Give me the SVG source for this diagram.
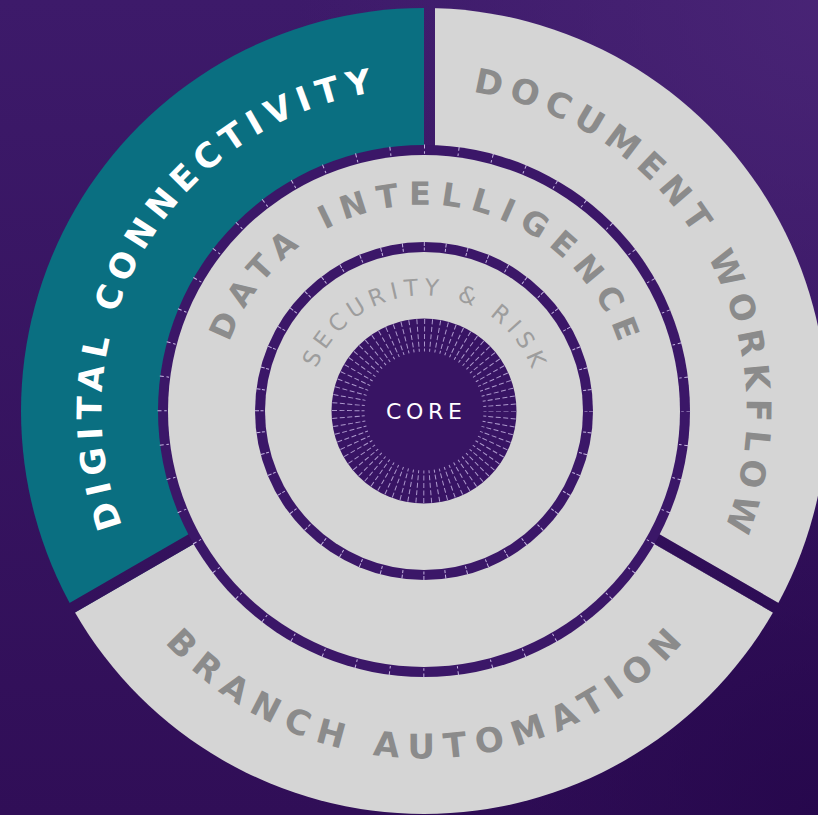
<svg xmlns="http://www.w3.org/2000/svg" width="818" height="815" viewBox="0 0 818 815">
<style>
.lbl{font-family:"DejaVu Sans","Liberation Sans",Arial,sans-serif;text-anchor:middle;}
.outerTxt{font-size:34px;font-weight:700;}
.dataTxt{font-size:32px;font-weight:700;fill:#8c8c8c;}
.secTxt{font-size:23px;font-weight:400;fill:#9d9d9d;}
.greyTxt{fill:#8b8b8b;}
.seg{stroke:none;}
.ring{fill:#3b1768;}
.band{fill:#d5d5d5;}
.tick{fill:none;stroke:#c6b6e2;stroke-dashoffset:0.5;}
.ray{fill:none;stroke:#c9b9e6;stroke-opacity:0.8;stroke-dashoffset:0.5;}
</style>
<defs>
<linearGradient id="bg" gradientUnits="userSpaceOnUse" x1="0" y1="0" x2="0" y2="815">
<stop offset="0" stop-color="#3d1a6a"/>
<stop offset="1" stop-color="#300e57"/>
</linearGradient>
<radialGradient id="glowTR" gradientUnits="userSpaceOnUse" cx="818" cy="0" r="520">
<stop offset="0" stop-color="#4b2678" stop-opacity="0.8"/>
<stop offset="1" stop-color="#4b2678" stop-opacity="0"/>
</radialGradient>
<radialGradient id="darkBR" gradientUnits="userSpaceOnUse" cx="818" cy="815" r="420">
<stop offset="0" stop-color="#24064a" stop-opacity="0.8"/>
<stop offset="1" stop-color="#24064a" stop-opacity="0"/>
</radialGradient>
<g id="gapShapes">
<polygon points="424,0 435,0 435,411 424,411"/>
<polygon points="424,411 839.7,651 845.2,641.5 429.5,401.5"/>
<polygon points="424,411 8.3,651 2.8,641.5 418.5,401.5"/>
</g>
<path id="pDigital" d="M144.6 572.3 A322.6 322.6 0 0 1 424 88.4"/>
<path id="pDocument" d="M424 88.4 A322.6 322.6 0 0 1 703.4 572.3"/>
<path id="pBranch" d="M123.1 584.7 A347.4 347.4 0 0 0 724.9 584.7"/>
<path id="pData" d="M217.7 411 A206.3 206.3 0 0 1 630.3 411"/>
<path id="pSecurity" d="M308.4 411 A115.6 115.6 0 0 1 539.6 411"/>
</defs>

<rect width="818" height="815" fill="url(#bg)"/>
<rect width="818" height="815" fill="url(#glowTR)"/>
<rect width="818" height="815" fill="url(#darkBR)"/>

<g id="digital-connectivity">
<path class="seg" fill="#0a6f81" d="M424 411 L75.0 612.5 A403 403 0 0 1 424 8 Z"/>
</g>
<g id="document-workflow">
<path class="seg" fill="#d5d5d5" d="M424 411 L424 8 A403 403 0 0 1 773.0 612.5 Z"/>
</g>
<g id="branch-automation">
<path class="seg" fill="#d5d5d5" d="M424 411 L773.0 612.5 A403 403 0 0 1 75.0 612.5 Z"/>
</g>

<g id="gaps">
<use href="#gapShapes" fill="url(#bg)"/>
<use href="#gapShapes" fill="url(#glowTR)"/>
<use href="#gapShapes" fill="url(#darkBR)"/>
</g>

<g id="data-intelligence">
<circle class="ring" cx="424" cy="411" r="266"/>
<circle class="tick" cx="424" cy="411" r="264.5" stroke-width="4" stroke-dasharray="1 33.623"/>
<circle class="tick" cx="424" cy="411" r="258.5" stroke-width="2.5" stroke-dasharray="1 32.837"/>
<circle class="band" cx="424" cy="411" r="256"/>
</g>

<g id="security-risk">
<circle class="ring" cx="424" cy="411" r="169"/>
<circle class="tick" cx="424" cy="411" r="167" stroke-width="4" stroke-dasharray="1 20.860"/>
<circle class="tick" cx="424" cy="411" r="162" stroke-width="3" stroke-dasharray="1 20.206"/>
<circle class="band" cx="424" cy="411" r="159"/>
</g>

<g id="core">
<circle cx="424" cy="411" r="92.5" fill="#381464"/>
<circle class="ray" cx="424" cy="411" r="89.5" stroke-width="5" stroke-dasharray="1 6.8104"/>
<circle class="ray" cx="424" cy="411" r="82" stroke-width="5" stroke-dasharray="1 6.1558"/>
<circle class="ray" cx="424" cy="411" r="74.5" stroke-width="5" stroke-dasharray="1 5.5014"/>
<circle class="ray" cx="424" cy="411" r="67" stroke-width="5" stroke-dasharray="1 4.8468"/>
<circle class="ray" cx="424" cy="411" r="61" stroke-width="3" stroke-dasharray="1 4.3232"/>
<text class="lbl" x="426.3" y="418.7" font-size="22" fill="#ffffff" letter-spacing="4.7">CORE</text>
</g>

<g id="labels">
<text class="lbl outerTxt" fill="#ffffff" letter-spacing="6.8"><textPath href="#pDigital" startOffset="341.2">DIGITAL CONNECTIVITY</textPath></text>
<text class="lbl outerTxt greyTxt" letter-spacing="7.4"><textPath href="#pDocument" startOffset="341.5">DOCUMENT WORKFLOW</textPath></text>
<text class="lbl outerTxt greyTxt" letter-spacing="9.8"><textPath href="#pBranch" startOffset="368.7">BRANCH AUTOMATION</textPath></text>
<text class="lbl dataTxt" letter-spacing="9.3"><textPath href="#pData" startOffset="328.7">DATA INTELLIGENCE</textPath></text>
<text class="lbl secTxt" letter-spacing="5.6"><textPath href="#pSecurity" startOffset="184.4">SECURITY &amp; RISK</textPath></text>
</g>

<g id="connectors"/>
</svg>
